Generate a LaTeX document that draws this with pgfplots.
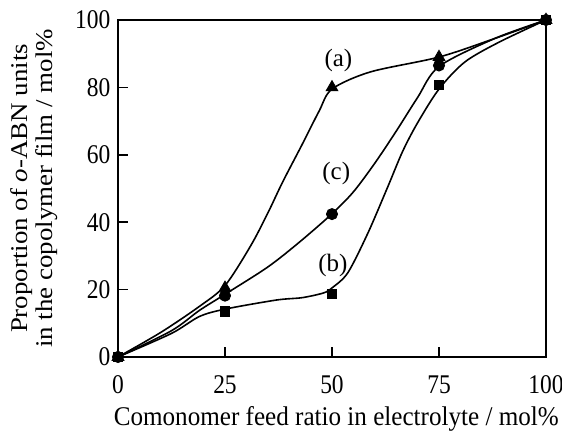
\documentclass[border=0pt]{standalone}
\usepackage{fontspec}
\setmainfont{Liberation Serif}
\usepackage{pgfplots}
\pgfplotsset{compat=1.18}

% curves
\pgfplotstableread{
x y
0 0
10 7.3
19 15
25 21.2
31 33
35 42.7
38.5 52
43 63
47 73
50 79.5
59 84.6
75 89
88 94.5
100 100
}\curveA
\pgfplotstableread{
x y
0 0
12.5 7
19 12
25 14.2
37 16.9
43 17.6
48 19
50 20.5
53.7 25
58.4 36.8
63 50.4
66.5 61
70 69.5
75 79.5
81 87.5
89 93.4
100 100
}\curveB
\pgfplotstableread{
x y
0 0
12.5 7.8
19 13.8
25 18.6
35 26.7
42.5 34.2
50 42.5
55 49
60 57.5
65 67
70 77
75 86.2
88 94.5
100 100
}\curveC

\begin{document}
\fontsize{12.5}{14.5}\selectfont
\begin{tikzpicture}
\begin{axis}[
  name=ax,
  width=214pt, height=168.5pt, scale only axis,
  xmin=0, xmax=100, ymin=0, ymax=100,
  xtick={0,25,50,75,100}, ytick={0,20,40,60,80,100},
  xtick pos=bottom, ytick pos=left, tick align=inside,
  major tick length=5pt,
  axis line style={line width=0.8pt},
  every tick/.style={line width=0.8pt, black},
  /pgf/number format/assume math mode=true,
  ticklabel style={font=\fontsize{13.5}{15}\selectfont, xscale=0.87},
  xticklabel style={yshift=-5pt},
  xlabel={Comonomer feed ratio in electrolyte / mol\%},
  every axis x label/.style={at={(axis description cs:0.51,0)}, anchor=base,
    yshift=-34.5pt, font=\fontsize{13.5}{15}\selectfont, xscale=0.93},
  ylabel={\scalebox{1.12}[1]{Proportion of \textit{o}-ABN units}\\
          \scalebox{1.12}[1]{in the copolymer film / mol\%}},
  every axis y label/.style={at={(axis description cs:-0.195,0.5)}, anchor=center,
    rotate=90, align=center, font=\fontsize{12}{12.5}\selectfont},
  clip=false,
]
\addplot[black, line width=0.8pt, smooth, no marks] table {\curveA};
\addplot[black, line width=0.8pt, smooth, no marks] table {\curveB};
\addplot[black, line width=0.8pt, smooth, no marks] table {\curveC};
\addplot[only marks, mark=triangle*, mark size=3.4pt, black] coordinates {(0,0) (25,20.5) (50,80) (75,89) (100,100)};
\addplot[only marks, mark=square*, mark size=2.3pt, black] coordinates {(0,0) (25,13.5) (50,18.7) (75,80.7) (100,100)};
\addplot[only marks, mark=*, mark size=2.8pt, black] coordinates {(0,0) (25,18.2) (50,42.4) (75,86.5) (100,100)};
\node at (axis cs:51.5,88.1) {(a)};
\node at (axis cs:51,54.6) {(c)};
\node at (axis cs:50.2,27.3) {(b)};
\end{axis}
\pgfresetboundingbox
\path ([xshift=-59pt,yshift=-37.5pt]ax.south west) rectangle ([xshift=8pt,yshift=10pt]ax.north east);
\end{tikzpicture}
\end{document}
